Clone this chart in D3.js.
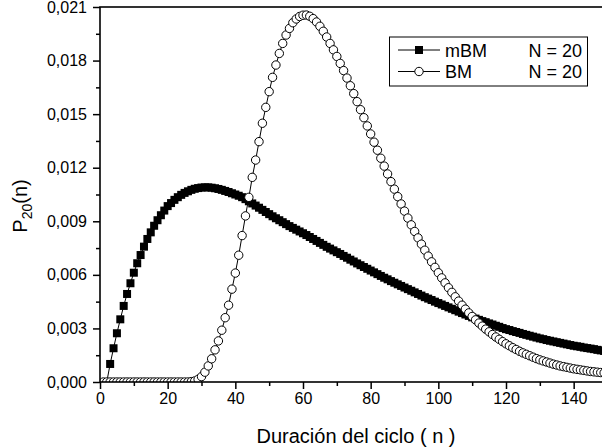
<!DOCTYPE html>
<html>
<head>
<meta charset="utf-8">
<script src="https://cdn.jsdelivr.net/npm/d3@7"></script>
<style>
  html, body { margin: 0; padding: 0; background: #fff; }
  svg { display: block; font-family: "Liberation Sans", Arial, sans-serif; }
</style>
</head>
<body>
<svg id="chart" width="602" height="448"></svg>
<script>
// === Dane ===
const mbmStart = 2;   // pierwszy n serii mBM
const mbmValues = [
    0, 0.00101, 0.00189, 0.00273, 0.00351, 0.00426, 0.00493, 0.00553, 0.00612, 0.00665,
    0.00711, 0.00758, 0.00801, 0.00838, 0.00875, 0.00906, 0.00934, 0.00960, 0.00985, 0.01002,
    0.01020, 0.01035, 0.01048, 0.01059, 0.01068, 0.01076, 0.01082, 0.01086, 0.01089, 0.01090,
    0.01090, 0.01088, 0.01085, 0.01081, 0.01076, 0.01070, 0.01064, 0.01057, 0.01050, 0.01043,
    0.01035, 0.01024, 0.01012, 0.01000, 0.00988, 0.00976, 0.00964, 0.00952, 0.00940, 0.00928,
    0.00917, 0.00906, 0.00895, 0.00884, 0.00873, 0.00863, 0.00853, 0.00843, 0.00833, 0.00823,
    0.00812, 0.00801, 0.00790, 0.00779, 0.00768, 0.00757, 0.00747, 0.00737, 0.00727, 0.00717,
    0.00706, 0.00696, 0.00685, 0.00675, 0.00664, 0.00654, 0.00644, 0.00634, 0.00624, 0.00614,
    0.00604, 0.00594, 0.00584, 0.00575, 0.00565, 0.00556, 0.00547, 0.00538, 0.00529, 0.00520,
    0.00511, 0.00502, 0.00493, 0.00484, 0.00475, 0.00467, 0.00459, 0.00450, 0.00442, 0.00434,
    0.00426, 0.00418, 0.00410, 0.00402, 0.00394, 0.00386, 0.00378, 0.00370, 0.00362, 0.00355,
    0.00348, 0.00341, 0.00335, 0.00328, 0.00322, 0.00315, 0.00309, 0.00302, 0.00296, 0.00291,
    0.00285, 0.00280, 0.00275, 0.00269, 0.00264, 0.00259, 0.00254, 0.00249, 0.00244, 0.00240,
    0.00235, 0.00231, 0.00227, 0.00223, 0.00219, 0.00215, 0.00211, 0.00207, 0.00203, 0.00200,
    0.00197, 0.00193, 0.00190, 0.00187, 0.00184, 0.00180, 0.00177, 0.00174
];

const bmStart = 1;    // pierwszy n serii BM
const bmValues = [
    0, 0, 0, 0, 0, 0, 0, 0, 0, 0,
    0, 0, 0, 0, 0, 0, 0, 0, 0, 0,
    0, 0, 0, 0, 0, 0,
    0.00002, 0.00006, 0.00015, 0.00030, 0.00055, 0.00090, 0.00130, 0.00180, 0.00230, 0.00290,
    0.00360, 0.00430, 0.00520, 0.00610, 0.00710, 0.00820, 0.00930, 0.01034, 0.01146, 0.01243,
    0.01346, 0.01449, 0.01538, 0.01626, 0.01706, 0.01775, 0.01840, 0.01896, 0.01943, 0.01980,
    0.02012, 0.02033, 0.02047, 0.02054, 0.02055, 0.02048, 0.02035, 0.02016, 0.01992, 0.01964,
    0.01932, 0.01896, 0.01860, 0.01823, 0.01784, 0.01744, 0.01702, 0.01659, 0.01615, 0.01570,
    0.01525, 0.01480, 0.01434, 0.01389, 0.01343, 0.01298, 0.01253, 0.01209, 0.01165, 0.01122,
    0.01080, 0.01038, 0.00997, 0.00957, 0.00918, 0.00880, 0.00843, 0.00807, 0.00772, 0.00738,
    0.00705, 0.00673, 0.00642, 0.00612, 0.00583, 0.00555, 0.00528, 0.00502, 0.00477, 0.00453,
    0.00430, 0.00408, 0.00387, 0.00367, 0.00348, 0.00330, 0.00313, 0.00296, 0.00281, 0.00266,
    0.00252, 0.00239, 0.00226, 0.00214, 0.00203, 0.00192, 0.00182, 0.00172, 0.00163, 0.00155,
    0.00147, 0.00139, 0.00131, 0.00124, 0.00118, 0.00112, 0.00106, 0.00100, 0.00095, 0.00090,
    0.00086, 0.00082, 0.00078, 0.00074, 0.00071, 0.00068, 0.00065, 0.00062, 0.00059, 0.00057,
    0.00055, 0.00053, 0.00051
];

const xTicks = [0, 20, 40, 60, 80, 100, 120, 140];
const yTicks = [0, 0.003, 0.006, 0.009, 0.012, 0.015, 0.018, 0.021];
const legendLabels = ["mBM", "BM"];
const legendN = ["N = 20", "N = 20"];

// === Układ ===
const svg = d3.select("#chart");
const L = 100, R = 607.5, T = 7, B = 382;

const x = d3.scaleLinear().domain([0, 150]).range([L, R]);
const y = d3.scaleLinear().domain([0, 0.021]).range([B, T]);

const locale = d3.formatLocale({ decimal: ",", thousands: ".", grouping: [3], currency: ["", ""] });
const fmtY = locale.format(".3f");

svg.append("defs").append("clipPath").attr("id", "plotClip")
    .append("rect").attr("x", L).attr("y", T).attr("width", R - L).attr("height", B - T);

const mbm = mbmValues.map((v, i) => ({ n: mbmStart + i, v }));
const bm = bmValues.map((v, i) => ({ n: bmStart + i, v }));

const line = d3.line().x(d => x(d.n)).y(d => y(d.v));
const plot = svg.append("g").attr("clip-path", "url(#plotClip)");

// mBM - kwadraty
plot.append("path").datum(mbm).attr("d", line)
    .attr("fill", "none").attr("stroke", "#000").attr("stroke-width", 1);
plot.selectAll("rect.mbm").data(mbm.filter(d => d.v > 0)).enter().append("rect")
    .attr("x", d => x(d.n) - 4).attr("y", d => y(d.v) - 4)
    .attr("width", 8).attr("height", 8).attr("fill", "#000");

// BM - kółka
plot.append("path").datum(bm).attr("d", line)
    .attr("fill", "none").attr("stroke", "#000").attr("stroke-width", 1);
plot.selectAll("circle.bm").data(bm).enter().append("circle")
    .attr("cx", d => x(d.n)).attr("cy", d => y(d.v)).attr("r", 4.2)
    .attr("fill", "#fff").attr("stroke", "#000").attr("stroke-width", 1);

// === Osie ===
const axisStyle = g => {
    g.select(".domain").remove();
    g.selectAll("line").attr("stroke", "#000").attr("stroke-width", 1.5);
    g.selectAll("text").attr("fill", "#000").style("font-size", "16px");
};

// minor
svg.append("g").attr("transform", `translate(${L},0)`)
    .call(d3.axisLeft(y).tickValues(d3.range(0.0015, 0.021, 0.003)).tickSize(4).tickFormat(""))
    .call(axisStyle);
svg.append("g").attr("transform", `translate(0,${B})`)
    .call(d3.axisBottom(x).tickValues(d3.range(10, 150, 20)).tickSize(4).tickFormat(""))
    .call(axisStyle);

// major
svg.append("g").attr("transform", `translate(${L},0)`)
    .call(d3.axisLeft(y).tickValues(yTicks).tickSize(7).tickPadding(6).tickFormat(fmtY))
    .call(axisStyle);
svg.append("g").attr("transform", `translate(0,${B})`)
    .call(d3.axisBottom(x).tickValues(xTicks).tickSize(7).tickPadding(4).tickFormat(d3.format("d")))
    .call(axisStyle);

// ramka
svg.append("rect").attr("x", L).attr("y", T).attr("width", R - L).attr("height", B - T)
    .attr("fill", "none").attr("stroke", "#000").attr("stroke-width", 1.6);

// === Tytuły osi ===
svg.append("text").attr("x", (L + 610) / 2 + 1).attr("y", 443)
    .attr("text-anchor", "middle").style("font-size", "20px")
    .text("Duración del ciclo ( n )");

const yl = svg.append("text")
    .attr("transform", "translate(27,206) rotate(-90)")
    .attr("text-anchor", "middle").style("font-size", "20px");
yl.append("tspan").text("P");
yl.append("tspan").attr("dy", 5).style("font-size", "14px").text("20");
yl.append("tspan").attr("dy", -5).text("(n)");

// === Legenda ===
const lg = svg.append("g");
lg.append("rect").attr("x", 389.5).attr("y", 37).attr("width", 198).attr("height", 49)
    .attr("fill", "#fff").attr("stroke", "#000").attr("stroke-width", 1);
legendLabels.forEach((lab, i) => {
    const cy = 50 + i * 21.5;
    lg.append("line").attr("x1", 398).attr("x2", 440).attr("y1", cy).attr("y2", cy)
        .attr("stroke", "#000").attr("stroke-width", 1);
    if (i === 0) {
        lg.append("rect").attr("x", 415).attr("y", cy - 4).attr("width", 8).attr("height", 8).attr("fill", "#000");
    } else {
        lg.append("circle").attr("cx", 419).attr("cy", cy).attr("r", 4.2)
            .attr("fill", "#fff").attr("stroke", "#000");
    }
    lg.append("text").attr("x", 445).attr("y", cy + 6.5).style("font-size", "18px").text(lab);
    lg.append("text").attr("x", 582).attr("y", cy + 6.5).attr("text-anchor", "end")
        .style("font-size", "18px").text(legendN[i]);
});
</script>
</body>
</html>
